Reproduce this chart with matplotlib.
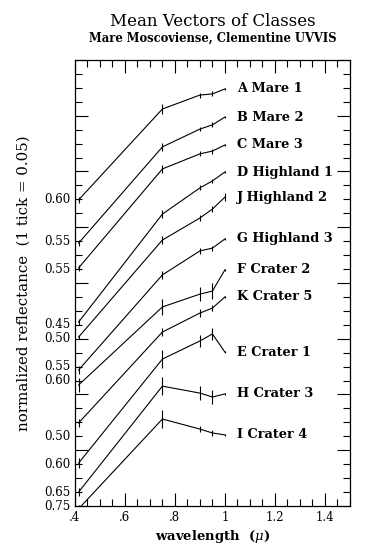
import matplotlib
matplotlib.use('Agg')
import matplotlib.pyplot as plt
from matplotlib.ticker import MultipleLocator, FixedLocator, FixedFormatter

plt.rcParams['font.family'] = 'DejaVu Serif'
plt.rcParams['mathtext.fontset'] = 'dejavuserif'

# Clementine UVVIS band centres (micron)
wavelengths = [0.415, 0.75, 0.90, 0.95, 1.00]

# offset normalized reflectance (1 tick = 0.05)
a_mare1 = [1.098, 1.424, 1.474, 1.478, 1.496]
b_mare2 = [0.943, 1.288, 1.352, 1.367, 1.395]
c_mare3 = [0.854, 1.209, 1.263, 1.273, 1.295]
d_highland1 = [0.660, 1.047, 1.141, 1.166, 1.198]
j_highland2 = [0.606, 0.954, 1.033, 1.065, 1.108]
g_highland3 = [0.488, 0.829, 0.915, 0.925, 0.958]
f_crater2 = [0.434, 0.714, 0.760, 0.771, 0.847]
k_crater5 = [0.298, 0.624, 0.692, 0.710, 0.750]
e_crater1 = [0.154, 0.527, 0.592, 0.617, 0.552]
h_crater3 = [0.050, 0.430, 0.405, 0.391, 0.402]
i_crater4 = [-0.010, 0.312, 0.276, 0.262, 0.255]

a_err = [0.011, 0.018, 0.009, 0.009, 0.004]
b_err = [0.011, 0.014, 0.007, 0.009, 0.004]
c_err = [0.011, 0.014, 0.009, 0.009, 0.004]
d_err = [0.011, 0.014, 0.009, 0.007, 0.004]
j_err = [0.007, 0.013, 0.011, 0.011, 0.014]
g_err = [0.014, 0.014, 0.011, 0.009, 0.004]
f_err = [0.025, 0.029, 0.025, 0.029, 0.004]
k_err = [0.014, 0.014, 0.014, 0.011, 0.004]
e_err = [0.018, 0.032, 0.022, 0.020, 0.004]
h_err = [0.014, 0.032, 0.025, 0.025, 0.004]
i_err = [0.014, 0.032, 0.011, 0.011, 0.004]

class_labels = ['A Mare 1', 'B Mare 2', 'C Mare 3', 'D Highland 1',
                'J Highland 2', 'G Highland 3', 'F Crater 2',
                'K Crater 5', 'E Crater 1', 'H Crater 3', 'I Crater 4']
class_values = [a_mare1, b_mare2, c_mare3, d_highland1, j_highland2, g_highland3,
                f_crater2, k_crater5, e_crater1, h_crater3, i_crater4]
class_errors = [a_err, b_err, c_err, d_err, j_err, g_err,
                f_err, k_err, e_err, h_err, i_err]

# left axis labels: reflectance at 0.415 for each curve start
ytick_pos = [1.10, 0.95, 0.85, 0.65, 0.60, 0.50, 0.45, 0.25, 0.15, 0.05, 0.0]
ytick_text = ['0.60', '0.55', '0.55', '0.45', '0.50', '0.55', '0.60',
              '0.50', '0.60', '0.65', '0.75']

xtick_pos = [0.4, 0.6, 0.8, 1.0, 1.2, 1.4]
xtick_text = ['.4', '.6', '.8', '1', '1.2', '1.4']

fig = plt.figure(figsize=(3.8, 5.6), dpi=100)
ax = fig.add_axes([0.197, 0.0964, 0.724, 0.7966])

for vals, errs, name in zip(class_values, class_errors, class_labels):
    ax.errorbar(wavelengths, vals, yerr=errs, fmt='-', color='black',
                lw=0.8, elinewidth=0.8, capsize=0)
    ax.text(1.05, vals[-1], name, fontsize=9.3, va='center', ha='left',
            fontweight='semibold')

ax.set_xlim(0.4, 1.5)
ax.set_ylim(0.0, 1.6)

ax.xaxis.set_major_locator(FixedLocator(xtick_pos))
ax.xaxis.set_major_formatter(FixedFormatter(xtick_text))
ax.xaxis.set_minor_locator(MultipleLocator(0.05))
ax.yaxis.set_major_locator(MultipleLocator(0.2))
ax.yaxis.set_minor_locator(MultipleLocator(0.05))
ax.set_yticklabels([])
ax.tick_params(which='both', direction='in', top=True, right=True,
               width=0.8, color='black')
ax.tick_params(which='major', length=9.5, labelsize=8.5)
ax.tick_params(which='minor', length=5)
for s in ax.spines.values():
    s.set_linewidth(0.9)

# curve-start labels on left side
for yp, txt in zip(ytick_pos, ytick_text):
    ax.text(-0.015, yp, txt, transform=ax.get_yaxis_transform(),
            ha='right', va='center', fontsize=8.5)

ax.set_xlabel(r'wavelength  ($\mu$)', fontsize=9.5, fontweight='semibold',
              labelpad=3)
ax.set_ylabel('normalized reflectance  (1 tick = 0.05)', fontsize=10.8,
              labelpad=28)

fig.text(0.56, 0.961, 'Mean Vectors of Classes', ha='center', va='center',
         fontsize=12)
fig.text(0.56, 0.932, 'Mare Moscoviense, Clementine UVVIS', ha='center',
         va='center', fontsize=8.3, fontweight='semibold')

fig.savefig('out.png', dpi=100, facecolor='white')
